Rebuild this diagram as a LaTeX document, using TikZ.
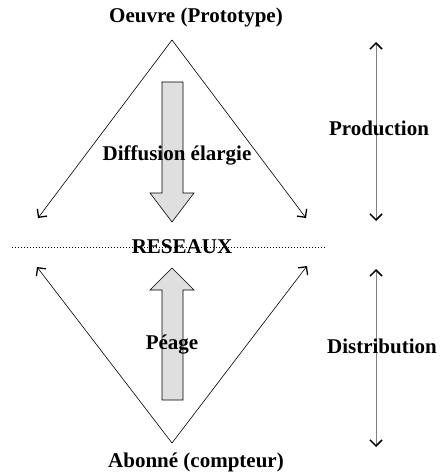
\documentclass[tikz,border=0pt]{standalone}
\usepackage{fontspec}
\setmainfont{Liberation Serif}
\usetikzlibrary{arrows.meta,positioning,calc}

\begin{document}
\begin{tikzpicture}[x=1pt,y=-1pt,>={Straight Barb[length=6pt,width=12pt,line width=1.3pt]},font=\fontsize{21}{25}\selectfont\bfseries]
\tikzstyle{lbl}=[inner sep=1pt]
\tikzstyle{trait}=[->,line width=0.6pt]
\tikzstyle{echelle}=[{Straight Barb[length=6pt,width=12pt,line width=1.5pt,color=black]}-{Straight Barb[length=6pt,width=12pt,line width=1.5pt,color=black]},draw=gray,line width=0.7pt]
\tikzstyle{bloc}=[draw,line width=0.6pt,fill=gray!25]
\useasboundingbox (0,0) rectangle (439,476);
% production
\node[lbl] (oeuvre) at (196,17) {Oeuvre (Prototype)};
\coordinate (haut) at (172,40);
\coordinate (hg) at (38,218); \coordinate (hd) at (306,218);
\draw[trait] (haut) -- (hg); \draw[trait] (haut) -- (hd);
\draw[bloc] (162,82) -- (183,82) -- (183,193) -- (194,193) -- (172,222) -- (150,193) -- (162,193) -- cycle;
\node[lbl] (diffusion) at (177,155) {Diffusion élargie};
% reseau
\coordinate (rg) at (12,247); \coordinate (rd) at (325,247);
\draw[dotted,line width=1pt,dash pattern=on 1pt off 2pt] (rg) -- (rd);
\node[lbl] (reseaux) at (182,247) {RESEAUX};
% distribution
\coordinate (bas) at (172,443);
\coordinate (bg) at (37,267); \coordinate (bd) at (307,266);
\draw[trait] (bas) -- (bg); \draw[trait] (bas) -- (bd);
\draw[bloc] (162,400) -- (183,400) -- (183,290) -- (194,290) -- (172,268) -- (150,290) -- (162,290) -- cycle;
\node[lbl] (peage) at (172,345) {Péage};
\node[lbl] (abonne) at (196,462) {Abonné (compteur)};
% echelles
\coordinate (p1) at (376,42); \coordinate (p2) at (376,221);
\coordinate (d1) at (376,269); \coordinate (d2) at (376,447);
\draw[echelle] (p1) -- (p2);
\draw[echelle] (d1) -- (d2);
\node[lbl] (production) at (379,128) {Production};
\node[lbl] (distribution) at (382,346) {Distribution};
\end{tikzpicture}
\end{document}
